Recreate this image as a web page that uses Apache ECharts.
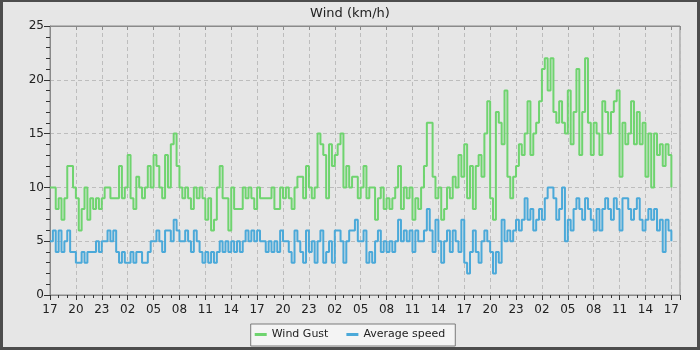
<!DOCTYPE html>
<html>
<head>
<meta charset="utf-8">
<script src="https://cdn.jsdelivr.net/npm/echarts@6/dist/echarts.min.js"></script>
<style>
    html, body { margin: 0; padding: 0; background: #4d4d4d; }
    #main {
        width: 700px; height: 350px; box-sizing: border-box;
        border-style: solid; border-color: #4d4d4d;
        border-width: 2px 3px 3px 3px;
    }
</style>
</head>
<body>
<div id="main"></div>
<script>
// hours since 17:00, one reading every 20 minutes
const stepHours = 1 / 3;

const xLabels = ['17', '20', '23', '02', '05', '08', '11', '14', '17', '20', '23', '02', '05',
    '08', '11', '14', '17', '20', '23', '02', '05', '08', '11', '14', '17'];

const windGust = [
    10, 10, 8, 9, 7, 9, 12, 12, 10, 9,
    6, 8, 10, 7, 9, 8, 9, 8, 9, 10,
    10, 9, 9, 9, 12, 9, 10, 13, 9, 8,
    11, 10, 9, 10, 12, 10, 13, 12, 10, 9,
    13, 10, 14, 15, 12, 10, 9, 10, 9, 8,
    10, 9, 10, 9, 7, 9, 6, 7, 10, 12,
    9, 9, 6, 10, 8, 8, 8, 10, 9, 10,
    9, 8, 10, 9, 9, 9, 9, 10, 8, 8,
    10, 9, 10, 9, 8, 10, 11, 11, 9, 12,
    10, 9, 10, 15, 14, 13, 9, 14, 12, 13,
    14, 15, 10, 12, 10, 11, 11, 9, 10, 12,
    9, 10, 10, 7, 9, 10, 8, 9, 8, 9,
    10, 12, 8, 10, 9, 10, 7, 9, 8, 10,
    12, 16, 16, 11, 9, 10, 7, 8, 10, 9,
    11, 10, 13, 11, 14, 9, 12, 8, 12, 13,
    11, 15, 18, 9, 7, 17, 16, 14, 19, 11,
    9, 11, 12, 14, 13, 15, 18, 13, 15, 16,
    18, 21, 22, 19, 22, 17, 16, 18, 16, 15,
    19, 14, 17, 21, 13, 17, 22, 16, 13, 16,
    15, 13, 18, 17, 15, 17, 18, 19, 11, 16,
    14, 15, 18, 14, 17, 14, 16, 11, 15, 10,
    15, 13, 14, 12, 14, 13, 10
];

const avgSpeed = [
    5, 6, 4, 6, 4, 5, 6, 4, 4, 3,
    3, 4, 3, 4, 4, 4, 5, 4, 5, 5,
    6, 5, 6, 4, 3, 4, 3, 3, 4, 3,
    4, 4, 3, 3, 4, 5, 5, 6, 5, 4,
    6, 6, 5, 7, 6, 5, 5, 6, 5, 4,
    6, 5, 4, 3, 4, 3, 4, 3, 4, 5,
    4, 5, 4, 5, 4, 5, 4, 5, 6, 5,
    6, 5, 6, 5, 5, 4, 5, 4, 5, 4,
    6, 5, 5, 4, 3, 6, 5, 4, 3, 6,
    4, 5, 3, 5, 6, 3, 4, 5, 3, 6,
    6, 5, 3, 5, 6, 6, 7, 5, 5, 6,
    3, 4, 3, 5, 6, 4, 5, 4, 5, 4,
    5, 7, 5, 6, 5, 6, 4, 6, 5, 5,
    6, 8, 6, 4, 7, 5, 3, 5, 6, 4,
    6, 5, 4, 7, 3, 2, 4, 6, 4, 3,
    5, 6, 5, 4, 2, 4, 3, 7, 5, 6,
    5, 6, 7, 6, 7, 9, 7, 8, 6, 7,
    8, 7, 9, 10, 10, 9, 7, 8, 10, 5,
    7, 6, 8, 9, 8, 7, 9, 8, 7, 6,
    8, 6, 8, 9, 8, 7, 9, 8, 6, 9,
    9, 8, 7, 8, 9, 7, 6, 7, 8, 7,
    8, 6, 7, 4, 7, 6, 5
];

const toPairs = (values) => values.map((v, i) => [i * stepHours, v]);

const chart = echarts.init(document.getElementById('main'));

const fontFamily = 'DejaVu Sans';
const xCommon = {
    type: 'value',
    min: 0,
    max: 73,
    interval: 3
};

const option = {
    animation: false,
    backgroundColor: '#e6e6e6',
    textStyle: {fontFamily: fontFamily},
    title: {
        text: 'Wind (km/h)',
        left: 'center',
        top: 0,
        textStyle: {fontSize: 13, fontWeight: 'normal', color: '#222', fontFamily: fontFamily}
    },
    grid: {
        left: 47,
        right: 17,
        top: 24,
        bottom: 52,
        show: true,
        borderColor: '#8a8a8a',
        borderWidth: 1,
        backgroundColor: 'transparent'
    },
    legend: {
        top: 322,
        left: 'center',
        backgroundColor: '#f4f4f4',
        borderColor: '#7a7a7a',
        borderWidth: 1,
        padding: [5, 10, 6, 4],
        itemGap: 18,
        itemWidth: 12,
        itemHeight: 3,
        icon: 'rect',
        textStyle: {fontSize: 11, color: '#222', fontFamily: fontFamily},
        data: ['Wind Gust', 'Average speed']
    },
    xAxis: [
        Object.assign({}, xCommon, {
            position: 'bottom',
            axisLine: {onZero: false, lineStyle: {color: '#8a8a8a'}},
            axisTick: {length: 5, lineStyle: {color: '#333'}},
            minorTick: {show: true, splitNumber: 3, length: 3, lineStyle: {color: '#333'}},
            axisLabel: {
                showMaxLabel: false,
                color: '#222',
                fontSize: 12,
                margin: 9,
                formatter: (v) => xLabels[Math.round(v / 3)] || ''
            },
            splitLine: {show: true, lineStyle: {color: '#bdbdbd', type: [4, 3]}}
        }),
        Object.assign({}, xCommon, {
            position: 'top',
            axisLine: {onZero: false, lineStyle: {color: '#8a8a8a'}},
            axisTick: {inside: true, length: 4, lineStyle: {color: '#8a8a8a'}},
            axisLabel: {show: false},
            splitLine: {show: false}
        })
    ],
    yAxis: {
        type: 'value',
        min: 0,
        max: 25,
        interval: 5,
        axisLine: {show: true, lineStyle: {color: '#8a8a8a'}},
        axisTick: {show: true, length: 6, lineStyle: {color: '#333'}},
        minorTick: {show: true, splitNumber: 5, length: 4, lineStyle: {color: '#333'}},
        axisLabel: {color: '#222', fontSize: 12, margin: 6},
        splitLine: {show: true, lineStyle: {color: '#bdbdbd', type: [4, 3]}}
    },
    series: [
        {
            name: 'Wind Gust',
            type: 'line',
            step: 'end',
            showSymbol: false,
            color: '#6fd46f',
            lineStyle: {width: 2},
            data: toPairs(windGust)
        },
        {
            name: 'Average speed',
            type: 'line',
            step: 'end',
            showSymbol: false,
            color: '#4ba9d9',
            lineStyle: {width: 2},
            data: toPairs(avgSpeed)
        }
    ]
};

chart.setOption(option);
</script>
</body>
</html>
